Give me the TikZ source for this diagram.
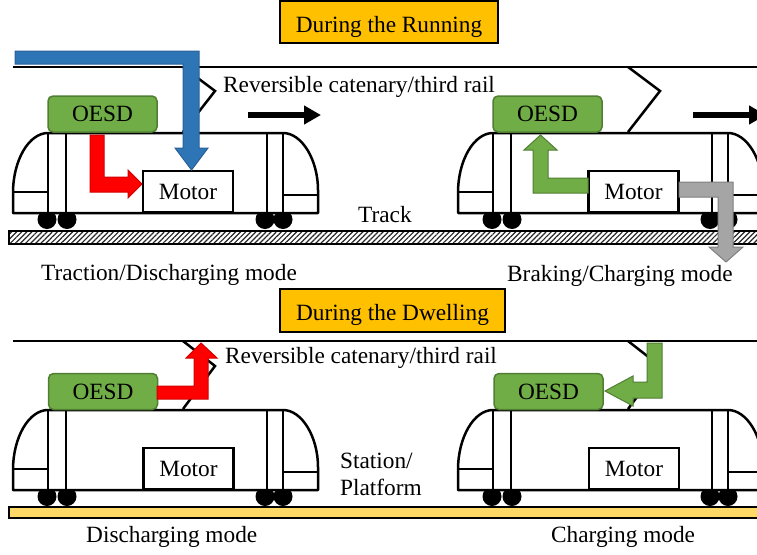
\documentclass[tikz,border=0pt]{standalone}
\usepackage{fontspec}
\setmainfont{Liberation Serif}
\usetikzlibrary{arrows.meta,patterns.meta}

\definecolor{oesdgreen}{HTML}{70AD47}
\definecolor{oesdedge}{HTML}{507E32}
\definecolor{titleorange}{HTML}{FFC000}
\definecolor{platformyellow}{HTML}{FFD966}
\definecolor{gridblue}{HTML}{2E75B6}
\definecolor{gridblueedge}{HTML}{2A6099}
\definecolor{flowred}{HTML}{FF0000}
\definecolor{flowrededge}{HTML}{D00000}
\definecolor{flowgray}{HTML}{A5A5A5}
\definecolor{flowgrayedge}{HTML}{7F7F7F}

\tikzset{
  carbody/.style={line width=2.5pt, line join=round},
  wire/.style={line width=2.2pt},
  panto/.style={line width=2.5pt, line join=miter},
  oesd/.style={draw=oesdedge, fill=oesdgreen, line width=1.5pt, rounded corners=5pt,
    minimum width=109pt, minimum height=36pt, inner sep=0pt},
  motorbox/.style={draw, fill=white, line width=2.5pt,
    minimum width=90pt, minimum height=41pt, inner sep=0pt},
  titlebox/.style={draw, fill=titleorange, line width=1.2pt, inner sep=0pt,
    text height=20pt, text depth=0pt},
  label/.style={inner sep=0pt, anchor=base west},
  dirarrow/.style={line width=6pt, -{Triangle[length=17pt,width=18pt]}},
  bluearrow/.style={fill=gridblue, draw=gridblueedge, line width=1pt, line join=miter},
  redarrow/.style={fill=flowred, draw=flowrededge, line width=1pt, line join=miter},
  greenarrow/.style={fill=oesdgreen, draw=oesdedge, line width=1pt, line join=miter},
  grayarrow/.style={fill=flowgray, draw=flowgrayedge, line width=1pt, line join=miter},
  tram/.pic={
    % wheels sit behind the white car body
    \foreach \wx in {47,67,265,283} \fill (\wx,219.5) circle (9.5pt);
    \draw[carbody, fill=white] (13,213) -- (13,193)
      .. controls (13,160) and (29,133) .. (48,133) -- (283,133)
      .. controls (302,133) and (318,160) .. (318,190) -- (318,213) -- cycle;
    \draw[carbody] (13,192) -- (48,192)
      (48,133) -- (48,213) (66,133) -- (66,213)
      (267,133) -- (267,213) (283,133) -- (283,213)
      (283,195) -- (318,195);
  }
}

\begin{document}
\begin{tikzpicture}[x=1pt, y=-1pt, font=\fontsize{23.3}{28}\selectfont]
\useasboundingbox (0,0) rectangle (757,554);
\clip (0,0) rectangle (757,554);

% ---------------- running ----------------
\node[titlebox, minimum width=218pt, minimum height=42pt] (runtitle) at (389,22) {During the Running};

\coordinate (catA1) at (13,67);
\coordinate (catA2) at (770,67);
\draw[wire] (catA1) -- (catA2);
\draw[panto] (183,67) -- (215,91) -- (183,132);
\draw[panto] (628,67) -- (660,91) -- (628,132);

\pic at (0,0) {tram};
\pic at (445,0) {tram};

\draw[line width=1.5pt, pattern={Lines[angle=45,distance=3.6pt,line width=1.2pt]},
  pattern color=black!85] (9,231) rectangle (775,244);

\node[oesd] (oesdA) at (102.5,114) {OESD};
\node[motorbox] (motorA) at (188,191.5) {Motor};
\node[oesd] (oesdB) at (547.5,114) {OESD};
\node[motorbox] (motorB) at (633.5,191.5) {Motor};

% driving direction
\coordinate (dirA1) at (248,115);
\coordinate (dirA2) at (321,115);
\draw[dirarrow] (dirA1) -- (dirA2);
\coordinate (dirB1) at (693,115);
\coordinate (dirB2) at (766,115);
\draw[dirarrow] (dirB1) -- (dirB2);

% power flows while running
\draw[bluearrow] (15,51) -- (199,51) -- (199,148) -- (208,148) -- (191.5,170)
  -- (175,148) -- (183,148) -- (183,64) -- (15,64) -- cycle;
\draw[redarrow] (90,135) -- (104,135) -- (104,177) -- (128,177) -- (128,170)
  -- (142,184) -- (128,198) -- (128,192) -- (90,192) -- cycle;
\draw[greenarrow] (588,178) -- (548,178) -- (548,150) -- (557,150) -- (540.5,135)
  -- (524,150) -- (533,150) -- (533,193) -- (588,193) -- cycle;
\draw[grayarrow] (679,182) -- (733,182) -- (733,247) -- (743,247) -- (726,262)
  -- (709,247) -- (718,247) -- (718,197) -- (679,197) -- cycle;

\node[label] (catlabA) at (223,92) {Reversible catenary/third rail};
\node[label] (tracklab) at (358,222) {Track};
\node[label] (modeA) at (41,280) {Traction/Discharging mode};
\node[label] (modeB) at (507,281) {Braking/Charging mode};

% ---------------- dwelling ----------------
\node[titlebox, minimum width=225pt, minimum height=43pt] (dwelltitle) at (392.5,310.5) {During the Dwelling};

\coordinate (catC1) at (13,341);
\coordinate (catC2) at (770,341);
\draw[wire] (catC1) -- (catC2);
\draw[panto] (183,341) -- (215,366) -- (183,409);
\draw[panto] (628,341) -- (660,366) -- (628,409);

\pic at (0,277) {tram};
\pic at (445,277) {tram};

\draw[line width=2pt, fill=platformyellow] (9,507) rectangle (775,518);

\node[oesd] (oesdC) at (103,391.5) {OESD};
\node[motorbox] (motorC) at (188.5,468.5) {Motor};
\node[oesd] (oesdD) at (548.5,391.5) {OESD};
\node[motorbox] (motorD) at (634,468.5) {Motor};

% power flows while dwelling
\draw[redarrow] (157,386) -- (194,386) -- (194,358) -- (186,358) -- (201,343)
  -- (217,358) -- (208,358) -- (208,399) -- (157,399) -- cycle;
\draw[greenarrow] (647,343) -- (662,343) -- (662,398) -- (633,398) -- (633,406)
  -- (605,391) -- (633,376) -- (633,382) -- (647,382) -- cycle;

\node[label] (catlabC) at (225,363) {Reversible catenary/third rail};
\node[label] (stationlab) at (340,468) {Station/};
\node[label] (platformlab) at (340,495) {Platform};
\node[label] (modeC) at (86,542) {Discharging mode};
\node[label] (modeD) at (551,542) {Charging mode};
\end{tikzpicture}
\end{document}
